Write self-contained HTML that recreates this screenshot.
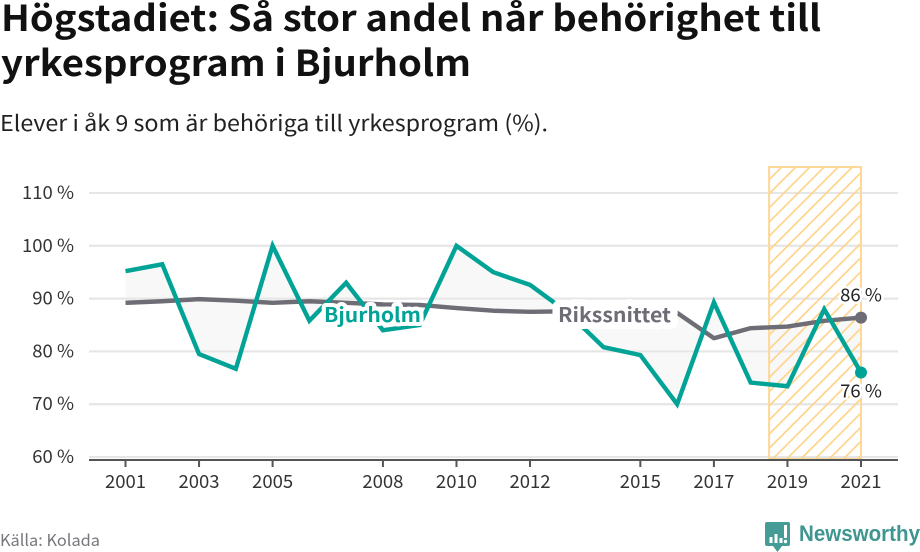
<!DOCTYPE html>
<html lang="sv">
<head>
<meta charset="utf-8">
<title>Högstadiet: Så stor andel når behörighet till yrkesprogram i Bjurholm</title>
<style>
html,body{margin:0;padding:0;background:#fff;}
svg{display:block;font-family:"Noto Sans CJK SC","Liberation Sans",sans-serif;}
</style>
</head>
<body>
<svg id="chart" xmlns="http://www.w3.org/2000/svg" width="920" height="552" viewBox="0 0 920 552">
  <defs>
    <pattern id="hatch" patternUnits="userSpaceOnUse" width="10" height="10" patternTransform="rotate(45)">
      <rect x="0" y="0" width="1.700" height="10" fill="#ffd38a"></rect>
    </pattern>
  </defs>
  <text x="1" y="31" font-size="36" font-weight="700" fill="#111111" textLength="820" lengthAdjust="spacingAndGlyphs">Högstadiet: Så stor andel når behörighet till</text>
  <text x="1" y="76" font-size="36" font-weight="700" fill="#111111" textLength="470" lengthAdjust="spacingAndGlyphs">yrkesprogram i Bjurholm</text>
  <text x="0" y="131" font-size="22" fill="#222222" textLength="548" lengthAdjust="spacingAndGlyphs">Elever i åk 9 som är behöriga till yrkesprogram (%).</text>
  <g id="grid"></g>
  <g id="yLabels"></g>
  <g id="area"></g>
  <g id="highlight"></g>
  <g id="axis"></g>
  <g id="series"></g>
  <g id="labels"></g>
  <text x="0" y="546" font-size="16" fill="#77777c" textLength="100" lengthAdjust="spacingAndGlyphs">Källa: Kolada</text>
  <g>
    <path d="M767 522h21a2 2 0 0 1 2 2v20a2 2 0 0 1-2 2h-6l-4.500 6-4.500-6h-6a2 2 0 0 1-2-2v-20a2 2 0 0 1 2-2z" fill="#459b96"></path>
    <rect x="769.500" y="537" width="3" height="6" fill="#fff"></rect>
    <rect x="774.500" y="534" width="3" height="9" fill="#fff"></rect>
    <rect x="779.500" y="538" width="3" height="5" fill="#fff"></rect>
    <rect x="784" y="525" width="3" height="13" fill="#fff"></rect>
    <circle cx="785.500" cy="541.500" r="1.700" fill="#fff"></circle>
    <text x="799" y="541" font-size="22" font-weight="700" fill="#3f9590" font-family="'Liberation Sans',sans-serif" textLength="121" lengthAdjust="spacingAndGlyphs">Newsworthy</text>
  </g>
</svg>
<script>
const years = [2001,2002,2003,2004,2005,2006,2007,2008,2009,2010,2011,2012,2013,2014,2015,2016,2017,2018,2019,2020,2021];
const bjurholm = [95.2,96.5,79.5,76.7,100,85.8,93,84,85,100,95,92.6,87.5,80.8,79.3,70,89.3,74.1,73.4,88,76];
const riket = [89.2,89.5,89.9,89.6,89.2,89.5,89.2,88.9,88.8,88.2,87.7,87.5,87.6,87.6,87.5,87.3,82.5,84.4,84.7,85.8,86.4];
const yTicks = [60,70,80,90,100,110];
const xTicks = [2001,2003,2005,2008,2010,2012,2015,2017,2019,2021];
const highlightYears = [2018.5,2021];

const SVG = 'http://www.w3.org/2000/svg';
const xScale = function (v) { return 125.5 + (v - 2001) * 36.775; };
const yScale = function (v) { return 457 - (v - 60) * 5.28; };
function make(tag, parent, attrs, text) {
  const el = document.createElementNS(SVG, tag);
  for (const k in attrs) el.setAttribute(k, attrs[k]);
  if (text !== undefined) el.textContent = text;
  parent.appendChild(el);
  return el;
}
function pts(vals) {
  return vals.map(function (v, i) { return xScale(years[i]).toFixed(2) + ',' + yScale(v).toFixed(2); });
}
const grid = document.getElementById('grid');
const yLabels = document.getElementById('yLabels');
yTicks.forEach(function (t) {
  const line = make('line', grid, {x1: 89, x2: 898, y1: yScale(t), y2: yScale(t), stroke: '#e2e2e2', 'stroke-width': 2});
  
  
  const lab = make('text', yLabels, {x: 74, y: yScale(t) + 6, 'font-size': 18.5, fill: '#333333', 'text-anchor': 'end'}, t + ' %');
  
  
});
const areaG = document.getElementById('area');
const areaEl = make('polygon', areaG, {points: pts(bjurholm).concat(pts(riket).reverse()).join(' '), fill: '#f8f8f8', 'fill-rule': 'nonzero'});


// re-draw gridlines lightly over the area
yTicks.forEach(function (t) {
  const line = make('line', areaG, {x1: 89, x2: 898, y1: yScale(t), y2: yScale(t), stroke: '#e6e6e6', 'stroke-width': 2});
  
  
});
const hl = document.getElementById('highlight');
const hx0 = xScale(highlightYears[0]);
const hx1 = xScale(highlightYears[1]);
const hatchRect = make('rect', hl, {x: hx0, y: 167, width: hx1 - hx0, height: 292, fill: 'url(#hatch)', stroke: '#ffd898', 'stroke-width': 2});



const axis = document.getElementById('axis');
const base = make('line', axis, {x1: 89, x2: 898, y1: 460, y2: 460, stroke: '#555555', 'stroke-width': 2});


xTicks.forEach(function (y) {
  const tick = make('line', axis, {x1: xScale(y), x2: xScale(y), y1: 460, y2: 467, stroke: '#555555', 'stroke-width': 2});
  
  
  const lab = make('text', axis, {x: xScale(y), y: 488, 'font-size': 18.5, fill: '#333333', 'text-anchor': 'middle'}, String(y));
  
  
});
const series = document.getElementById('series');
const riketLine = make('polyline', series, {points: pts(riket).join(' '), fill: 'none', stroke: '#6e6c75', 'stroke-width': 4.400, 'stroke-linejoin': 'round'});


const bjLine = make('polyline', series, {points: pts(bjurholm).join(' '), fill: 'none', stroke: '#00a396', 'stroke-width': 4.400, 'stroke-linejoin': 'miter'});


const last = years.length - 1;
const riketDot = make('circle', series, {cx: xScale(years[last]), cy: yScale(riket[last]), r: 6, fill: '#6e6c75'});


const bjDot = make('circle', series, {cx: xScale(years[last]), cy: yScale(bjurholm[last]), r: 6, fill: '#00a396'});



const labels = document.getElementById('labels');
const halo = {'paint-order': 'stroke', stroke: '#ffffff', 'stroke-linejoin': 'round'};
const bjLab = make('text', labels, Object.assign({x: 372.500, y: 322, 'font-size': 20, 'font-weight': 700, fill: '#00a396', 'text-anchor': 'middle', 'stroke-width': 8, textLength: 97, lengthAdjust: 'spacingAndGlyphs'}, halo), 'Bjurholm');


const riketLab = make('text', labels, Object.assign({x: 614.500, y: 322, 'font-size': 20, 'font-weight': 700, fill: '#6e6c75', 'text-anchor': 'middle', 'stroke-width': 14, textLength: 113, lengthAdjust: 'spacingAndGlyphs'}, halo), 'Rikssnittet');


const endR = make('text', labels, Object.assign({x: 861, y: yScale(riket[last]) - 16, 'font-size': 18.5, fill: '#222222', 'text-anchor': 'middle', 'stroke-width': 5}, halo), Math.round(riket[last]) + ' %');


const endB = make('text', labels, Object.assign({x: 861, y: yScale(bjurholm[last]) + 25, 'font-size': 18.5, fill: '#222222', 'text-anchor': 'middle', 'stroke-width': 5}, halo), Math.round(bjurholm[last]) + ' %');


</script>
</body>
</html>
